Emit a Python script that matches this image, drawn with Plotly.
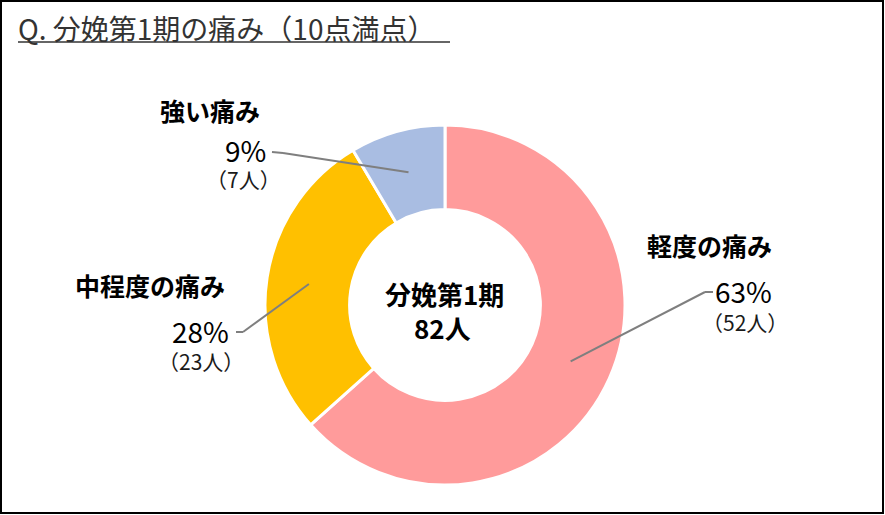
import math
import plotly.graph_objects as go

# ---- data ----
categories = ["軽度の痛み", "中程度の痛み", "強い痛み"]
counts = [52, 23, 7]
colors = ["#FF9B9B", "#FFC000", "#A9BDE2"]
title_text = "Q. 分娩第1期の痛み（10点満点）"
center_title = "分娩第1期"
unit = "人"

total = sum(counts)
W, H = 885, 515
FONT = "Noto Sans CJK JP, Noto Sans, sans-serif"

# donut geometry (pixels)
cx, cy, R = 445, 305, 180
hole = 0.53

def px(x):
    return x / W

def py(y):
    return 1 - y / H

fig = go.Figure()
fig.add_trace(go.Pie(
    labels=categories,
    values=counts,
    sort=False,
    direction="clockwise",
    rotation=0,
    hole=hole,
    marker=dict(colors=colors, line=dict(color="white", width=3)),
    textinfo="none",
    hoverinfo="label+value+percent",
    showlegend=False,
    domain=dict(x=[px(cx - R), px(cx + R)], y=[py(cy + R), py(cy - R)]),
))

# label layout (pixel anchors): name, percent, count, leader elbow
label_layout = {
    "軽度の痛み": dict(name=(709, 245), pct=(743, 291), cnt=(745, 322), elbow=(705, 292), tick=(713, 292)),
    "中程度の痛み": dict(name=(150, 285), pct=(200, 331), cnt=(201, 361), elbow=(243, 332), tick=(236, 332)),
    "強い痛み": dict(name=(210, 110), pct=(245, 150), cnt=(243, 179), elbow=(283, 153), tick=(272, 152)),
}

annotations = []
shapes = []
cum = 0
r_mid = R * (1 + hole) / 2
for cat, n in zip(categories, counts):
    mid = (cum + n / 2) / total
    cum += n
    th = 2 * math.pi * mid
    sx, sy = cx + r_mid * math.sin(th), cy - r_mid * math.cos(th)
    L = label_layout[cat]
    pct = round(n / total * 100)
    annotations.append(dict(x=px(L["name"][0]), y=py(L["name"][1]), xref="paper", yref="paper",
                            text=f"<b>{cat}</b>", showarrow=False,
                            font=dict(family=FONT, size=25, color="#000000"),
                            xanchor="center", yanchor="middle"))
    annotations.append(dict(x=px(L["pct"][0]), y=py(L["pct"][1]), xref="paper", yref="paper",
                            text=f"{pct}%", showarrow=False,
                            font=dict(family=FONT, size=28, color="#000000"),
                            xanchor="center", yanchor="middle"))
    annotations.append(dict(x=px(L["cnt"][0]), y=py(L["cnt"][1]), xref="paper", yref="paper",
                            text=f"（{n}{unit}）", showarrow=False,
                            font=dict(family=FONT, size=21, color="#1a1a1a"),
                            xanchor="center", yanchor="middle"))
    ex, ey = L["elbow"]
    tx, ty = L["tick"]
    shapes.append(dict(type="line", xref="paper", yref="paper",
                       x0=px(sx), y0=py(sy), x1=px(ex), y1=py(ey),
                       line=dict(color="#7F7F7F", width=2)))
    shapes.append(dict(type="line", xref="paper", yref="paper",
                       x0=px(ex), y0=py(ey), x1=px(tx), y1=py(ty),
                       line=dict(color="#7F7F7F", width=2)))

# center text
annotations.append(dict(x=px(444), y=py(293), xref="paper", yref="paper",
                        text=f"<b>{center_title}</b>", showarrow=False,
                        font=dict(family=FONT, size=26, color="#000000"),
                        xanchor="center", yanchor="middle"))
annotations.append(dict(x=px(442), y=py(327), xref="paper", yref="paper",
                        text=f"<b>{total}{unit}</b>", showarrow=False,
                        font=dict(family=FONT, size=26, color="#000000"),
                        xanchor="center", yanchor="middle"))

# title
annotations.append(dict(x=px(16), y=py(28), xref="paper", yref="paper",
                        text=title_text, showarrow=False,
                        font=dict(family=FONT, size=28, color="#333333"),
                        xanchor="left", yanchor="middle"))
shapes.append(dict(type="line", xref="paper", yref="paper",
                   x0=px(18), y0=py(42), x1=px(450), y1=py(42),
                   line=dict(color="#333333", width=1.5)))

# outer border
shapes.append(dict(type="rect", xref="paper", yref="paper",
                   x0=px(1), y0=py(513), x1=px(883), y1=py(1),
                   line=dict(color="#000000", width=2), fillcolor="rgba(0,0,0,0)"))

fig.update_layout(
    width=W, height=H,
    margin=dict(l=0, r=0, t=0, b=0),
    paper_bgcolor="white",
    plot_bgcolor="white",
    annotations=annotations,
    shapes=shapes,
)

fig.write_html(
    "out.html",
    config={"displayModeBar": False},
    post_script="document.body.style.margin='0';document.body.style.padding='0';document.body.style.overflow='hidden';",
)
